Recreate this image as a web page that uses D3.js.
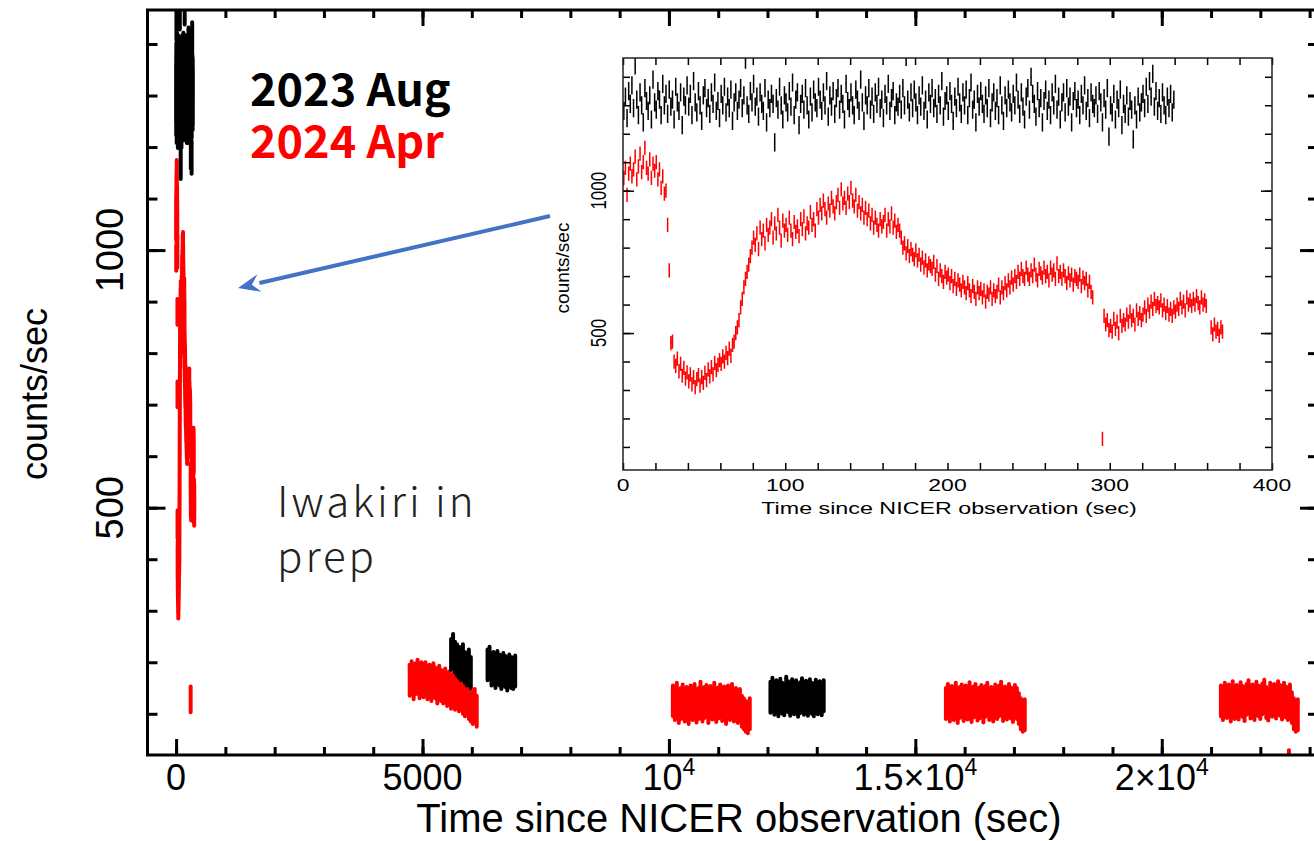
<!DOCTYPE html>
<html><head><meta charset="utf-8">
<script src="https://cdn.jsdelivr.net/npm/d3@7"></script>
<style>body{margin:0;background:#fff;} svg{display:block;}</style>
</head><body>
<svg id="c" width="1314" height="841"></svg>
<script>
// ---------------- DATA ----------------
// NICER light curves, first orbit, 1-s bins starting at t = 0 s (counts/sec)
const shortBin = 1;
const aug2023Rate = [
 1280,1330,1255,1350,1305,1370,1290,1440,1320,1265,
 1345,1300,1240,1360,1315,1280,1335,1250,1390,1310,
 1285,1350,1320,1265,1375,1300,1340,1270,1355,1295,
 1320,1250,1365,1310,1280,1345,1230,1330,1300,1370,
 1295,1340,1265,1385,1310,1275,1350,1300,1245,1335,
 1360,1290,1325,1270,1345,1305,1380,1280,1315,1255,
 1340,1300,1365,1275,1330,1290,1355,1245,1310,1345,
 1280,1320,1360,1290,1335,1460,1300,1270,1350,1310,
 1375,1295,1330,1260,1345,1305,1280,1360,1240,1320,
 1290,1340,1305,1170,1325,1285,1365,1300,1250,1335,
 1310,1275,1350,1295,1380,1265,1320,1345,1230,1305,
 1340,1285,1360,1300,1250,1330,1275,1355,1310,1290,
 1365,1320,1280,1345,1300,1385,1260,1335,1295,1350,
 1270,1325,1360,1285,1340,1305,1250,1375,1315,1290,
 1345,1300,1265,1355,1320,1280,1390,1310,1245,1335,
 1300,1360,1285,1330,1270,1345,1305,1365,1290,1320,
 1255,1340,1300,1375,1280,1325,1350,1265,1310,1295,
 1340,1285,1360,1300,1470,1320,1275,1345,1290,1355,
 1310,1265,1335,1295,1370,1280,1320,1250,1345,1305,
 1360,1290,1325,1270,1340,1300,1385,1260,1315,1335,
 1280,1350,1305,1245,1330,1290,1365,1310,1270,1345,
 1300,1355,1265,1325,1380,1285,1320,1240,1340,1295,
 1350,1305,1270,1335,1290,1360,1255,1310,1345,1280,
 1325,1265,1370,1300,1245,1335,1290,1355,1310,1275,
 1340,1300,1380,1320,1270,1345,1295,1250,1330,1360,
 1285,1400,1340,1305,1260,1350,1290,1325,1240,1315,
 1355,1280,1320,1265,1345,1300,1375,1285,1330,1250,
 1310,1345,1275,1360,1295,1330,1240,1315,1350,1290,
 1320,1265,1340,1300,1370,1280,1325,1255,1345,1305,
 1290,1335,1270,1350,1310,1240,1325,1285,1360,1190,
 1300,1275,1340,1250,1320,1290,1355,1230,1305,1270,
 1335,1260,1315,1285,1180,1300,1250,1330,1275,1310,
 1340,1290,1365,1305,1385,1330,1410,1295,1350,1280,
 1325,1270,1345,1300,1265,1330,1290,1340,1275,1320
];
const apr2024Rate = [
 1045,1080,985,1060,1095,1050,1075,1120,1040,1085,
 1130,1065,1100,1150,1080,1060,1110,1045,1095,1070,
 1100,1040,1075,1010,1050,990,1000,880,720,465,
 470,400,385,410,365,392,350,378,340,362,
 330,355,320,345,310,338,352,315,345,325,
 360,335,372,348,380,355,395,370,388,405,
 392,418,400,430,412,445,420,458,470,500,
 520,545,590,620,660,690,715,740,770,800,
 835,810,850,795,870,830,860,815,880,845,
 870,900,835,885,850,915,870,825,895,860,
 880,845,905,860,830,890,855,875,840,900,
 865,910,850,885,870,925,880,900,860,935,
 905,950,920,965,935,905,955,930,975,945,
 920,960,985,940,1005,955,975,940,990,960,
 1010,965,945,985,930,960,920,950,905,940,
 900,930,885,915,870,905,880,860,900,875,
 890,915,860,900,875,920,870,895,855,880,
 860,835,800,815,780,805,770,795,775,760,
 790,755,775,740,765,730,755,720,745,735,
 725,750,705,735,690,720,700,680,715,695,
 705,675,700,665,690,655,685,670,650,680,
 660,640,675,650,630,665,645,620,660,640,
 655,625,650,610,645,635,660,620,650,630,
 645,670,625,660,640,675,650,685,660,695,
 670,700,680,715,690,725,700,690,730,705,
 690,720,700,740,705,685,725,710,695,730,
 700,715,685,730,705,720,690,745,700,715,
 690,720,700,675,710,685,705,670,700,690,
 680,705,665,695,675,690,650,680,645,625,
 null,null,null,null,null,128,560,530,545,510,
 525,505,550,515,540,500,560,525,545,530,
 565,540,575,545,560,530,580,550,570,545,
 565,590,560,600,575,610,585,620,595,605,
 590,615,580,600,570,595,565,585,560,590,
 575,600,585,620,590,610,580,625,600,615,
 595,620,600,630,605,590,625,600,615,595,
 null,null,520,495,530,505,515,490,520,505
];
const augErr = 32, aprErr = 25;

// Later orbits, 40-s bins (counts/sec)
const longBin = 40, longErr = 30;
const aprOrbitStarts = [4720, 10060, 15600, 21180];
const aprOrbit2 = [165,172,158,168,175,160,170,162,170,158,165,155,168,160,150,163,155,
  150,158,145,152,140,148,138,145,135,142,130,125,135,120,115,110,118,105];
const aprOrbit3 = [125,118,130,112,120,127,115,122,110,125,118,128,113,120,132,115,122,126,112,124,
  119,130,114,121,127,116,123,110,125,118,128,115,120,112,118,105,100,95,92,100];
const aprOrbit4 = [120,128,115,124,118,130,112,122,127,116,125,119,131,114,123,128,117,121,126,113,
  124,130,118,122,115,127,120,125,132,116,123,119,128,121,114,126,120,110,100,95,98];
const aprOrbit5 = [125,118,130,122,127,115,133,120,126,119,131,124,116,128,135,121,127,118,132,125,
  120,129,136,122,117,130,124,128,121,133,126,119,130,123,118,127,112,100,95,98];
const aprDropTime = [22580], aprDropRate = [24], aprDropErr = [5];

const augOrbitStarts = [5560, 6300, 12040];
const augOrbit2a = [215,225,210,205,200,195,205,190,185,195,180];
const augOrbit2b = [195,200,185,190,180,192,185,178,188,182,175,185,180,178,183];
const augOrbit3 = [132,140,128,135,125,138,130,127,142,133,126,137,129,135,124,131,139,128,134,126,
  137,130,125,136,129,133,127,135];

// ticks and labels
const mainXMajor = [0, 5000, 10000, 15000, 20000];
const mainXLabels = [["0",""],["5000",""],["10","4"],["1.5×10","4"],["2×10","4"]];
const mainYMajor = [500, 1000];
const insetXMajor = [0, 100, 200, 300, 400];
const insetYMajor = [500, 1000];
const legendLabels = ["2023 Aug", "2024 Apr"];
const seriesColors = ["#000000", "#ff0000"];

// ---------------- DRAW ----------------
const svg = d3.select('#c');
const defs = svg.append('defs');
const FONT = '"Liberation Sans", Arial, Helvetica, sans-serif';

const xM = d3.scaleLinear().domain([-580, 23170]).range([147.5, 1318]);
const yM = d3.scaleLinear().domain([20, 1466]).range([755, 10]);

defs.append('clipPath').attr('id','clipMain').append('rect')
  .attr('x', xM.range()[0]).attr('y', yM.range()[1])
  .attr('width', xM.range()[1]-xM.range()[0]).attr('height', yM.range()[0]-yM.range()[1]);

function barsPath(xs, ys, times, vals, err, half) {
  const p = d3.path();
  vals.forEach((v,i) => {
    if (v == null) return;
    const t = times(i);
    const e = Array.isArray(err) ? err[i] : err;
    p.moveTo(xs(t), ys(v - e)); p.lineTo(xs(t), ys(v + e));
    if (half > 0) { p.moveTo(xs(t - half), ys(v)); p.lineTo(xs(t + half), ys(v)); }
  });
  return p.toString();
}

const mainData = svg.append('g').attr('clip-path','url(#clipMain)');
function mainBars(vals, times, err, color) {
  mainData.append('path').attr('d', barsPath(xM, yM, times, vals, err, 0))
    .attr('fill','none').attr('stroke', color).attr('stroke-width', 4)
    .attr('stroke-linecap','round');
}
// red first, black on top
mainBars(apr2024Rate, i => i*shortBin + shortBin/2, aprErr, seriesColors[1]);
[aprOrbit2, aprOrbit3, aprOrbit4, aprOrbit5].forEach((arr, k) =>
  mainBars(arr, i => aprOrbitStarts[k] + i*longBin + longBin/2, longErr, seriesColors[1]));
mainBars(aprDropRate, i => aprDropTime[i], aprDropErr, seriesColors[1]);
mainBars(aug2023Rate, i => i*shortBin + shortBin/2, augErr, seriesColors[0]);
[augOrbit2a, augOrbit2b, augOrbit3].forEach((arr, k) =>
  mainBars(arr, i => augOrbitStarts[k] + i*longBin + longBin/2, longErr, seriesColors[0]));

// main axes (ticks inward on all four sides)
function styleAxis(g, w) {
  g.select('.domain').remove();
  g.selectAll('line').attr('stroke','#000').attr('stroke-width', w);
  g.selectAll('text').remove();
}
const xMinor = d3.range(0, 23001, 1000);
const yMinor = d3.range(100, 1401, 100);
const [L, R] = xM.range(); const [B, T] = yM.range();
svg.append('g').attr('transform',`translate(0,${B})`).call(d3.axisBottom(xM).tickValues(xMinor).tickSize(-8)).call(styleAxis, 3);
svg.append('g').attr('transform',`translate(0,${B})`).call(d3.axisBottom(xM).tickValues(mainXMajor).tickSize(-16)).call(styleAxis, 3);
svg.append('g').attr('transform',`translate(0,${T})`).call(d3.axisTop(xM).tickValues(xMinor).tickSize(-8)).call(styleAxis, 3);
svg.append('g').attr('transform',`translate(0,${T})`).call(d3.axisTop(xM).tickValues(mainXMajor).tickSize(-16)).call(styleAxis, 3);
svg.append('g').attr('transform',`translate(${L},0)`).call(d3.axisLeft(yM).tickValues(yMinor).tickSize(-10)).call(styleAxis, 3);
svg.append('g').attr('transform',`translate(${L},0)`).call(d3.axisLeft(yM).tickValues(mainYMajor).tickSize(-18)).call(styleAxis, 3);
svg.append('g').attr('transform',`translate(${R},0)`).call(d3.axisRight(yM).tickValues(yMinor).tickSize(-10)).call(styleAxis, 3);
svg.append('g').attr('transform',`translate(${R},0)`).call(d3.axisRight(yM).tickValues(mainYMajor).tickSize(-18)).call(styleAxis, 3);
svg.append('rect').attr('x',L).attr('y',T).attr('width',R-L).attr('height',B-T)
  .attr('fill','none').attr('stroke','#000').attr('stroke-width',3);

// main tick labels
const xl = svg.append('g').attr('font-family', FONT).attr('font-size', 36).attr('fill','#000');
mainXMajor.forEach((v, i) => {
  const t = xl.append('text').attr('x', xM(v)).attr('y', 790).attr('text-anchor','middle');
  t.append('tspan').text(mainXLabels[i][0]);
  if (mainXLabels[i][1]) t.append('tspan').attr('dy', -15).attr('font-size', 23).text(mainXLabels[i][1]);
});
mainYMajor.forEach(v => {
  svg.append('text').attr('transform',`translate(123,${yM(v)}) rotate(-90)`)
    .attr('text-anchor','middle').attr('font-family',FONT).attr('font-size',38).text(v);
});
svg.append('text').attr('x', 739).attr('y', 832).attr('text-anchor','middle')
  .attr('font-family',FONT).attr('font-size',40).text('Time since NICER observation (sec)');
svg.append('text').attr('transform','translate(47,394) rotate(-90)').attr('text-anchor','middle')
  .attr('font-family',FONT).attr('font-size',36).text('counts/sec');

// legend and note
const LFONT = '"Noto Sans CJK JP", "Noto Sans", sans-serif';
legendLabels.forEach((s, i) => {
  svg.append('text').attr('x', 250).attr('y', 106 + i*52).attr('font-family', LFONT)
    .attr('font-weight', 700).attr('font-size', 45).attr('fill', seriesColors[i]).text(s);
});
svg.append('text').attr('x',277).attr('y',517).attr('font-family',LFONT).attr('font-size',42)
  .attr('font-weight',300).attr('fill','#222').attr('letter-spacing',3).text('Iwakiri in');
svg.append('text').attr('x',277).attr('y',572).attr('font-family',LFONT).attr('font-size',42)
  .attr('font-weight',300).attr('fill','#222').attr('letter-spacing',3).text('prep');

// ---------------- INSET ----------------
const xI = d3.scaleLinear().domain([0, 400]).range([623, 1272]);
const yI = d3.scaleLinear().domain([19, 1466]).range([470, 58]);
svg.append('rect').attr('x', 545).attr('y', 35).attr('width', 745).attr('height', 490).attr('fill','#fff');
defs.append('clipPath').attr('id','clipIn').append('rect')
  .attr('x', 623).attr('y', 58).attr('width', 649).attr('height', 412);
const inData = svg.append('g').attr('clip-path','url(#clipIn)');
inData.append('path').attr('d', barsPath(xI, yI, i => i*shortBin + shortBin/2, aug2023Rate, augErr, shortBin/2))
  .attr('fill','none').attr('stroke', seriesColors[0]).attr('stroke-width', 1.5);
inData.append('path').attr('d', barsPath(xI, yI, i => i*shortBin + shortBin/2, apr2024Rate, aprErr, shortBin/2))
  .attr('fill','none').attr('stroke', seriesColors[1]).attr('stroke-width', 1.5);

const [iL, iR] = xI.range(); const [iB, iT] = yI.range();
const ixMinor = d3.range(0, 401, 20), iyMinor = d3.range(100, 1401, 100);
[[d3.axisBottom, iB], [d3.axisTop, iT]].forEach(([ax, pos]) => {
  svg.append('g').attr('transform',`translate(0,${pos})`).call(ax(xI).tickValues(ixMinor).tickSize(-7)).call(styleAxis, 1.5);
});
[[d3.axisLeft, iL], [d3.axisRight, iR]].forEach(([ax, pos]) => {
  svg.append('g').attr('transform',`translate(${pos},0)`).call(ax(yI).tickValues(iyMinor).tickSize(-7)).call(styleAxis, 1.5);
  svg.append('g').attr('transform',`translate(${pos},0)`).call(ax(yI).tickValues(insetYMajor).tickSize(-11)).call(styleAxis, 1.5);
});
svg.append('rect').attr('x',iL).attr('y',iT).attr('width',iR-iL).attr('height',iB-iT)
  .attr('fill','none').attr('stroke','#222').attr('stroke-width',1.5);

insetXMajor.forEach(v => {
  svg.append('text').attr('transform',`translate(${xI(v)},491) scale(1.35,1)`).attr('text-anchor','middle')
    .attr('font-family',FONT).attr('font-size',17).text(v);
});
insetYMajor.forEach(v => {
  svg.append('text').attr('transform',`translate(606,${yI(v)}) scale(1.3,1) rotate(-90)`).attr('text-anchor','middle')
    .attr('font-family',FONT).attr('font-size',17).text(v);
});
svg.append('text').attr('transform','translate(949,514) scale(1.37,1)').attr('text-anchor','middle')
  .attr('font-family',FONT).attr('font-size',17).text('Time since NICER observation (sec)');
svg.append('text').attr('transform','translate(569,268) rotate(-90)').attr('text-anchor','middle')
  .attr('font-family',FONT).attr('font-size',19).text('counts/sec');

// arrow
const arrowFrom = [550, 216], arrowTo = [238, 288];
const ang = Math.atan2(arrowTo[1]-arrowFrom[1], arrowTo[0]-arrowFrom[0]);
const hl = 22, hw = 9;
const base = [arrowTo[0] - hl*Math.cos(ang), arrowTo[1] - hl*Math.sin(ang)];
svg.append('line').attr('x1',arrowFrom[0]).attr('y1',arrowFrom[1]).attr('x2',base[0]).attr('y2',base[1])
  .attr('stroke','#4472c4').attr('stroke-width',4);
svg.append('polygon').attr('fill','#4472c4').attr('points', [
  arrowTo,
  [base[0] + hw*Math.sin(ang), base[1] - hw*Math.cos(ang)],
  [base[0] + 0.35*hl*Math.cos(ang), base[1] + 0.35*hl*Math.sin(ang)],
  [base[0] - hw*Math.sin(ang), base[1] + hw*Math.cos(ang)]
].map(p => p.join(',')).join(' '));
</script>
</body></html>
